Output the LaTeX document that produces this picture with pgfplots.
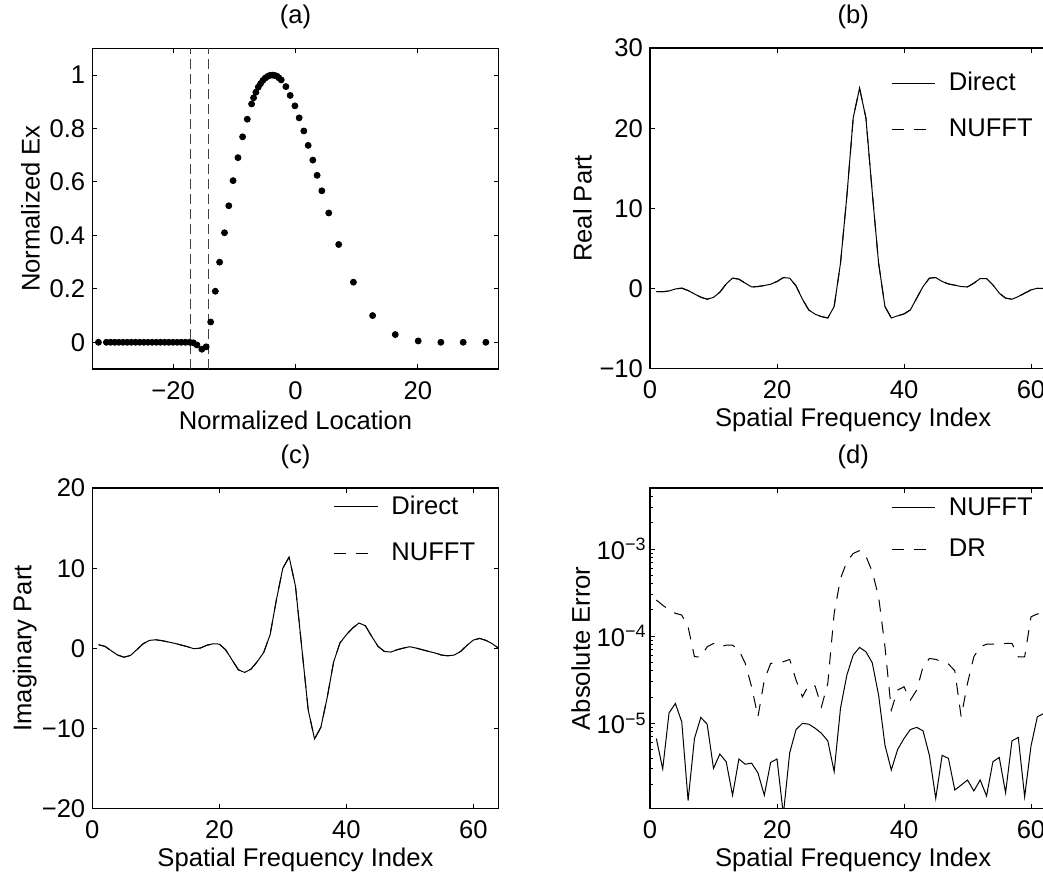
\documentclass[border=0pt]{standalone}
\usepackage{pgfplots}
\pgfplotsset{compat=1.18}
\usepackage{fontspec}
\setmainfont{Liberation Sans}
\begin{document}
\begin{tikzpicture}
\pgfplotsset{
 every axis/.append style={
  font=\fontsize{12.8}{15.4}\selectfont,
  scale only axis, width=203.2pt, height=160.3pt,
  axis line style={line width=0.7pt},
  tick style={black, line width=0.5pt},
  major tick length=2.5pt, minor tick length=1.5pt,
  tick align=inside,
  xticklabel style={anchor=center, yshift=-10.65pt},
  title style={at={(axis description cs:0.5,1.0605)}, anchor=center},
  xlabel style={at={(axis description cs:0.5,-0.16)}, anchor=center},
  ylabel style={at={(axis description cs:-0.1663,0.5)}, anchor=center},
  legend cell align=left,
  legend style={draw=none, fill=none, inner sep=0pt, outer sep=0pt,
    nodes={inner sep=0pt, text depth=0.15em},
    /tikz/every odd column/.append style={column sep=6.5pt}},
  legend image code/.code={\draw[#1] (0pt,0pt) -- (21.7pt,0pt);},
 },
 curve/.style={black, line width=0.5pt},
 dcurve/.style={black, line width=0.5pt, dash pattern=on 6pt off 5pt},
}
% ---------------- (a)
\begin{axis}[at={(46.15pt,252.5pt)}, anchor=south west,
 xmin=-33.2, xmax=33.2, ymin=-0.1, ymax=1.1,
 xtick={-20,0,20}, xticklabels={−20,0,20},
 ytick={0,0.2,0.4,0.6,0.8,1}, yticklabels={0,0.2,0.4,0.6,0.8,1},
 title={(a)}, xlabel={Normalized Location}, ylabel={Normalized Ex},
 ylabel style={at={(axis description cs:-0.152,0.5)}}]
\addplot[black!75, line width=0.5pt, dash pattern=on 5pt off 2.5pt] coordinates {(-17.2,-0.1) (-17.2,1.1)};
\addplot[black!75, line width=0.5pt, dash pattern=on 5pt off 2.5pt] coordinates {(-14.2,-0.1) (-14.2,1.1)};
\addplot[only marks, mark=*, mark size=1.5pt, black] coordinates {
(-32.2,0) (-30.9,0) (-30.22,0) (-29.54,0) (-28.86,0) (-28.18,0) (-27.5,0) (-26.82,0)
(-26.14,0) (-25.46,0) (-24.78,0) (-24.1,0) (-23.42,0) (-22.74,0) (-22.06,0) (-21.38,0)
(-20.7,0) (-20.02,0) (-19.34,0) (-18.66,0) (-17.98,0) (-17.3,0)
(-16.7,-0.002) (-16.1,-0.01) (-15.3,-0.026) (-14.6,-0.017)
(-13.86,0.076) (-13.1,0.191) (-12.4,0.30) (-11.6,0.41) (-10.9,0.511) (-10.2,0.605)
(-9.4,0.691) (-8.64,0.769) (-7.88,0.835) (-7.17,0.892) (-6.85,0.915) (-6.47,0.936)
(-6.08,0.955) (-5.71,0.968) (-5.33,0.98) (-4.94,0.989) (-4.57,0.995) (-4.19,0.999)
(-3.8,1.0) (-3.42,0.999) (-3.05,0.996) (-2.72,0.99) (-2.33,0.982) (-1.57,0.957)
(-0.87,0.924) (-0.1,0.885) (0.6,0.84) (1.36,0.791) (2.07,0.737) (2.83,0.682)
(3.53,0.625) (4.3,0.567) (5.43,0.484) (7.06,0.366) (9.46,0.225) (12.6,0.1)
(16.3,0.029) (20.05,0.005) (23.75,0) (27.4,0) (31.1,0)};
\end{axis}
% ---------------- (b)
\begin{axis}[at={(325pt,252.65pt)}, anchor=south west,
 xmin=0, xmax=64, ymin=-10, ymax=30,
 xtick={0,20,40,60}, xticklabels={0,20,40,60},
 ytick={-10,0,10,20,30}, yticklabels={−10,0,10,20,30},
 title={(b)}, xlabel={Spatial Frequency Index}, ylabel={Real Part},
 legend style={at={(axis description cs:0.594,0.9244)}, anchor=north west, row sep=12.57pt}]
\addplot[curve] table {
x y
1 -0.37
2 -0.40
3 -0.30
4 -0.05
5 0.05
6 -0.25
7 -0.67
8 -1.08
9 -1.33
10 -1.10
11 -0.46
12 0.58
13 1.30
14 1.17
15 0.67
16 0.20
17 0.25
18 0.38
19 0.54
20 0.88
21 1.37
22 1.30
23 0.33
24 -1.33
25 -2.67
26 -3.20
27 -3.50
28 -3.67
29 -2.25
30 3.17
31 11.5
32 21.3
33 25.0
34 21.3
35 12.0
36 3.17
37 -2.25
38 -3.67
39 -3.40
40 -3.17
41 -2.67
42 -1.20
43 0.25
44 1.30
45 1.37
46 0.88
47 0.58
48 0.42
49 0.25
50 0.20
51 0.67
52 1.25
53 1.25
54 0.46
55 -0.58
56 -1.20
57 -1.33
58 -1.00
59 -0.58
60 -0.17
61 0.04
62 0.00
63 -0.30
64 -0.40
};
\addlegendentry{Direct}
\addplot[dcurve] table {
x y
1 -0.37
2 -0.40
3 -0.30
4 -0.05
5 0.05
6 -0.25
7 -0.67
8 -1.08
9 -1.33
10 -1.10
11 -0.46
12 0.58
13 1.30
14 1.17
15 0.67
16 0.20
17 0.25
18 0.38
19 0.54
20 0.88
21 1.37
22 1.30
23 0.33
24 -1.33
25 -2.67
26 -3.20
27 -3.50
28 -3.67
29 -2.25
30 3.17
31 11.5
32 21.3
33 25.0
34 21.3
35 12.0
36 3.17
37 -2.25
38 -3.67
39 -3.40
40 -3.17
41 -2.67
42 -1.20
43 0.25
44 1.30
45 1.37
46 0.88
47 0.58
48 0.42
49 0.25
50 0.20
51 0.67
52 1.25
53 1.25
54 0.46
55 -0.58
56 -1.20
57 -1.33
58 -1.00
59 -0.58
60 -0.17
61 0.04
62 0.00
63 -0.30
64 -0.40
};
\addlegendentry{NUFFT}
\end{axis}
% ---------------- (c)
\begin{axis}[at={(46.15pt,32.65pt)}, anchor=south west,
 xmin=0, xmax=64, ymin=-20, ymax=20,
 xtick={0,20,40,60}, xticklabels={0,20,40,60},
 ytick={-20,-10,0,10,20}, yticklabels={−20,−10,0,10,20},
 title={(c)}, xlabel={Spatial Frequency Index}, ylabel={Imaginary Part},
 legend style={at={(axis description cs:0.5947,0.9765)}, anchor=north west, row sep=12.77pt}]
\addplot[curve] table {
x y
1 0.46
2 0.25
3 -0.30
4 -0.83
5 -1.10
6 -0.88
7 -0.17
8 0.58
9 1.00
10 1.08
11 0.96
12 0.80
13 0.63
14 0.42
15 0.21
16 -0.04
17 0.04
18 0.38
19 0.58
20 0.54
21 -0.17
22 -1.42
23 -2.67
24 -3.00
25 -2.58
26 -1.63
27 -0.50
28 1.70
29 6.10
30 10.0
31 11.4
32 7.75
33 0.0
34 -7.67
35 -11.3
36 -9.83
37 -6.10
38 -1.70
39 0.67
40 1.70
41 2.54
42 3.17
43 2.83
44 1.50
45 0.25
46 -0.38
47 -0.46
48 -0.17
49 0.04
50 0.21
51 0.04
52 -0.17
53 -0.38
54 -0.58
55 -0.83
56 -0.92
57 -0.83
58 -0.38
59 0.38
60 1.04
61 1.25
62 1.00
63 0.58
64 0.00
};
\addlegendentry{Direct}
\addplot[dcurve] table {
x y
1 0.46
2 0.25
3 -0.30
4 -0.83
5 -1.10
6 -0.88
7 -0.17
8 0.58
9 1.00
10 1.08
11 0.96
12 0.80
13 0.63
14 0.42
15 0.21
16 -0.04
17 0.04
18 0.38
19 0.58
20 0.54
21 -0.17
22 -1.42
23 -2.67
24 -3.00
25 -2.58
26 -1.63
27 -0.50
28 1.70
29 6.10
30 10.0
31 11.4
32 7.75
33 0.0
34 -7.67
35 -11.3
36 -9.83
37 -6.10
38 -1.70
39 0.67
40 1.70
41 2.54
42 3.17
43 2.83
44 1.50
45 0.25
46 -0.38
47 -0.46
48 -0.17
49 0.04
50 0.21
51 0.04
52 -0.17
53 -0.38
54 -0.58
55 -0.83
56 -0.92
57 -0.83
58 -0.38
59 0.38
60 1.04
61 1.25
62 1.00
63 0.58
64 0.00
};
\addlegendentry{NUFFT}
\end{axis}
% ---------------- (d)
\begin{axis}[at={(325pt,32.65pt)}, anchor=south west,
 ymode=log, xmin=0, xmax=64, ymin=1.05e-6, ymax=5e-3,
 xtick={0,20,40,60}, xticklabels={0,20,40,60},
 ytick={1e-5,1e-4,1e-3}, yticklabels={10\textsuperscript{−5},10\textsuperscript{−4},10\textsuperscript{−3}},
 yticklabel style={inner xsep=1.5pt},
 minor ytick={2e-6,3e-6,4e-6,5e-6,6e-6,7e-6,8e-6,9e-6,2e-5,3e-5,4e-5,5e-5,6e-5,7e-5,8e-5,9e-5,2e-4,3e-4,4e-4,5e-4,6e-4,7e-4,8e-4,9e-4,2e-3,3e-3,4e-3},
 title={(d)}, xlabel={Spatial Frequency Index}, ylabel={Absolute Error},
 ylabel style={at={(axis description cs:-0.1705,0.5)}},
 legend style={at={(axis description cs:0.594,0.971)}, anchor=north west, row sep=10.57pt}]
\addplot[curve] table {
x y
1 6.7e-6
2 3.0e-6
3 1.32e-5
4 1.69e-5
5 1.04e-5
6 1.3e-6
7 6.7e-6
8 1.17e-5
9 9.8e-6
10 3.05e-6
11 4.45e-6
12 3.63e-6
13 1.5e-6
14 3.9e-6
15 3.4e-6
16 3.5e-6
17 2.7e-6
18 1.5e-6
19 3.57e-6
20 3.9e-6
21 9e-7
22 4.6e-6
23 8.5e-6
24 1.0e-5
25 9.8e-6
26 8.8e-6
27 7.7e-6
28 6.3e-6
29 2.8e-6
30 1.49e-5
31 3.58e-5
32 6.08e-5
33 7.44e-5
34 6.64e-5
35 4.96e-5
36 2.11e-5
37 5.64e-6
38 2.92e-6
39 5.03e-6
40 6.7e-6
41 8.5e-6
42 9.0e-6
43 8.2e-6
44 4.3e-6
45 1.38e-6
46 4.3e-6
47 3.97e-6
48 1.72e-6
49 1.96e-6
50 2.24e-6
51 1.68e-6
52 2.24e-6
53 1.47e-6
54 3.63e-6
55 4.07e-6
56 1.6e-6
57 6.3e-6
58 6.9e-6
59 1.44e-6
60 5.5e-6
61 1.19e-5
62 1.3e-5
63 4e-6
64 7e-6
};
\addlegendentry{NUFFT}
\addplot[dcurve] table {
x y
1 2.6e-4
2 2.27e-4
3 2.0e-4
4 1.83e-4
5 1.75e-4
6 1.28e-4
7 5.82e-5
8 5.8e-5
9 7.57e-5
10 8.26e-5
11 7.57e-5
12 7.9e-5
13 7.9e-5
14 6.94e-5
15 4.88e-5
16 2.63e-5
17 1.19e-5
18 3.14e-5
19 4.88e-5
20 4.96e-5
21 5.1e-5
22 5.42e-5
23 3.14e-5
24 2.02e-5
25 2.75e-5
26 2.68e-5
27 1.55e-5
28 2.88e-5
29 1.83e-4
30 4.6e-4
31 7.15e-4
32 8.9e-4
33 9.6e-4
34 8.3e-4
35 5.5e-4
36 2.84e-4
37 7.6e-5
38 1.42e-5
39 2.41e-5
40 2.63e-5
41 1.85e-5
42 2.41e-5
43 4.47e-5
44 5.56e-5
45 5.42e-5
46 5.1e-5
47 4.79e-5
48 4.02e-5
49 1.19e-5
50 2.88e-5
51 5.82e-5
52 7.57e-5
53 8.1e-5
54 8.1e-5
55 8.1e-5
56 8.26e-5
57 8.3e-5
58 5.8e-5
59 5.8e-5
60 1.67e-4
61 1.8e-4
62 1.83e-4
63 2.0e-4
64 2.27e-4
};
\addlegendentry{DR}
\end{axis}
\pgfresetboundingbox
\path[use as bounding box] (0pt,0pt) rectangle (521.5pt,437pt);
\end{tikzpicture}
\end{document}
